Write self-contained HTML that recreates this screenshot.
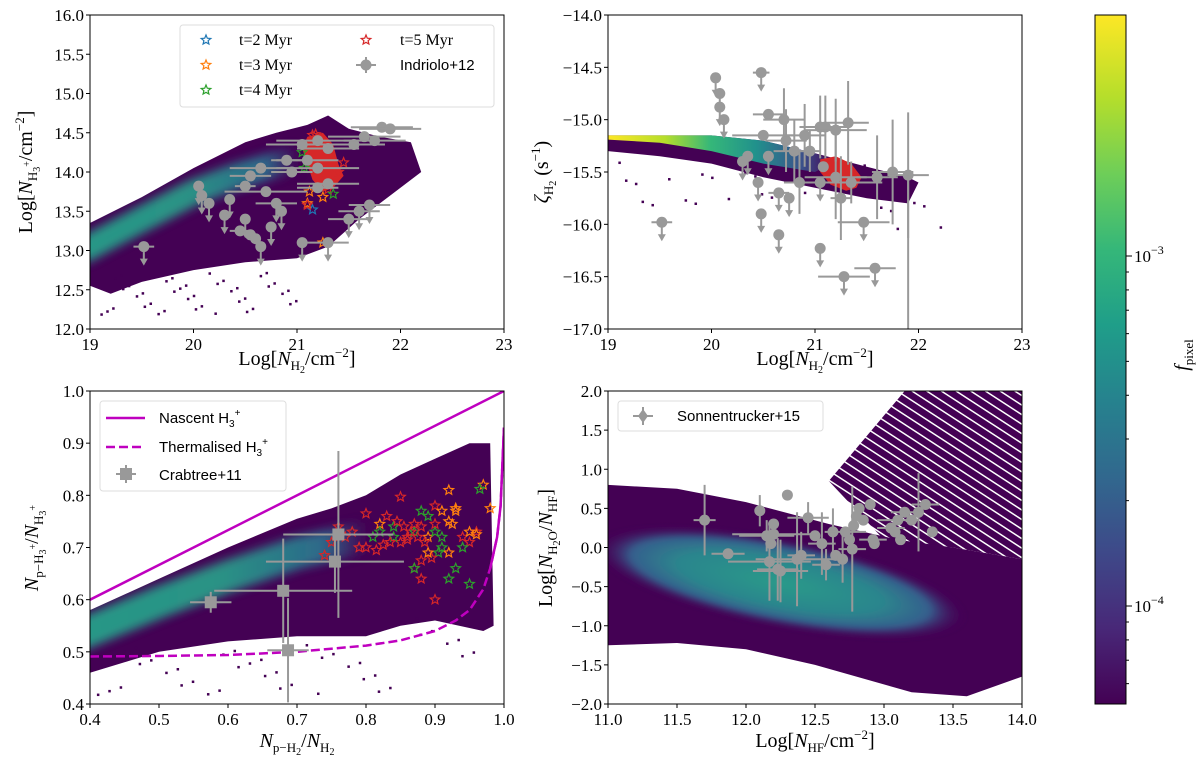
<!DOCTYPE html>
<html><head><meta charset="utf-8">
<style>
html,body{margin:0;padding:0;background:#fff;}
svg{display:block;font-family:"Liberation Serif",serif;}
.tk{font-size:17px;fill:#000;}
.lab{font-size:20px;fill:#000;}
.leg{font-family:"Liberation Sans",sans-serif;font-size:15px;fill:#000;}
.legs{font-family:"Liberation Serif",serif;font-size:16px;fill:#000;}
</style></head>
<body>
<svg id="fig" width="1200" height="762" viewBox="0 0 1200 762" xmlns="http://www.w3.org/2000/svg">
<defs id="defs">
<filter id="blur5" x="-20%" y="-50%" width="140%" height="200%"><feGaussianBlur stdDeviation="5"/></filter>
<filter id="blur3" x="-20%" y="-50%" width="140%" height="200%"><feGaussianBlur stdDeviation="3"/></filter>
<linearGradient id="viridis" x1="0" y1="1" x2="0" y2="0">
<stop offset="0" stop-color="#440154"/><stop offset="0.11" stop-color="#482878"/><stop offset="0.22" stop-color="#3e4989"/><stop offset="0.33" stop-color="#31688e"/><stop offset="0.44" stop-color="#26828e"/><stop offset="0.55" stop-color="#1f9e89"/><stop offset="0.66" stop-color="#35b779"/><stop offset="0.77" stop-color="#6ece58"/><stop offset="0.88" stop-color="#b5de2b"/><stop offset="1" stop-color="#fde725"/>
</linearGradient>
<linearGradient id="ridgeTL" x1="0" y1="0" x2="1" y2="0">
<stop offset="0" stop-color="#25a18a"/><stop offset="0.5" stop-color="#2a9a88"/><stop offset="0.85" stop-color="#2d6f8e"/><stop offset="1" stop-color="#440154"/>
</linearGradient>
<linearGradient id="bandTR" x1="0" y1="0" x2="1" y2="0">
<stop offset="0" stop-color="#fde725"/><stop offset="0.25" stop-color="#b5de2b"/><stop offset="0.45" stop-color="#35b779"/><stop offset="0.65" stop-color="#21918c"/><stop offset="0.85" stop-color="#3b528b"/><stop offset="1" stop-color="#440154"/>
</linearGradient>
<radialGradient id="ellBR"><stop offset="0" stop-color="#2a9a89"/><stop offset="0.55" stop-color="#2c858d"/><stop offset="0.8" stop-color="#355f8d"/><stop offset="1" stop-color="#440154" stop-opacity="0"/></radialGradient>
<pattern id="stripes" width="8" height="8" patternUnits="userSpaceOnUse" patternTransform="rotate(33)">
<rect width="8" height="6.5" fill="#440154"/>
</pattern>
<clipPath id="cTL"><rect x="90" y="15" width="414" height="314"/></clipPath>
<clipPath id="cTR"><rect x="608" y="15" width="414" height="314"/></clipPath>
<clipPath id="cBL"><rect x="90" y="391" width="414" height="313"/></clipPath>
<clipPath id="cBR"><rect x="608" y="391" width="414" height="313"/></clipPath>
</defs>
<g id="root"></g>
</svg>
<script>
// ---------- data ----------
const tlIndX=[19.52,20.05,20.08,20.15,20.3,20.35,20.45,20.5,20.55,20.6,20.65,20.5,20.55,20.65,20.7,20.8,20.85,20.75,20.9,20.95,21.05,21.1,21.2,21.2,21.3,21.3,21.2,21.05,21.3,21.5,21.6,21.7,21.55,21.65,21.75,21.82,21.9];
const tlIndY=[13.05,13.82,13.7,13.6,13.45,13.65,13.25,13.4,13.2,13.15,13.05,13.82,13.95,14.05,13.75,13.6,13.5,13.3,14.15,14.0,14.35,14.15,14.4,14.05,14.3,13.85,13.8,13.1,13.1,13.4,13.5,13.58,14.35,14.45,14.4,14.57,14.55];
const tlIndXerr=[0.1,0,0,0,0,0,0.1,0,0,0,0,0.1,0.2,0.3,0.4,0.2,0,0,0.15,0.2,0.35,0.3,0.4,0.4,0.3,0.3,0.2,0,0.2,0.2,0.2,0.2,0.3,0.35,0.3,0.3,0.3];
const tlIndLim=[1,1,1,1,1,1,0,1,0,0,1,0,0,0,0,1,1,1,0,0,0,0,0,0,0,0,0,1,1,1,1,1,0,0,0,0,0];
const tlStarX=[21.15,21.25,21.1,21.12,21.1,21.25,21.3,21.35,21.45,21.4,21.05,21.07,21.15,21.18];
const tlStarY=[13.52,13.68,13.6,13.75,13.58,13.1,13.78,13.72,14.12,14.0,14.25,14.05,14.47,14.48];
const tlStarC=["b","o","o","o","r","o","r","g","r","r","g","g","r","r"];
const trIndX=[19.52,20.04,20.08,20.08,20.12,20.48,20.55,20.7,20.5,20.35,20.3,20.55,20.72,20.8,20.9,20.95,20.45,20.65,20.75,20.48,20.65,20.85,21.05,21.1,21.2,21.32,21.08,21.2,21.25,21.35,21.05,21.05,21.28,21.58,21.47,21.6,21.75,21.9];
const trIndY=[-15.98,-14.6,-14.75,-14.88,-15.0,-14.55,-14.95,-15.0,-15.15,-15.35,-15.4,-15.35,-15.2,-15.3,-15.15,-15.3,-15.6,-15.7,-15.75,-15.9,-16.1,-15.6,-15.07,-15.07,-15.1,-15.03,-15.45,-15.55,-15.75,-15.6,-15.6,-16.23,-16.5,-16.42,-15.98,-15.55,-15.5,-15.53];
const trIndXerr=[0.1,0,0,0,0,0.08,0.15,0.2,0.3,0,0,0,0.2,0.2,0.2,0.1,0,0.1,0,0.05,0,0.15,0.2,0.2,0.3,0.2,0,0.3,0.1,0.3,0,0,0.25,0.2,0.25,0.2,0.2,0.2];
const trIndYerr=[0,0,0,0,0,0,0,0.3,0,0,0,0,0.3,0.3,0.3,0.2,0,0,0,0,0,0.3,0.3,0.3,0.3,0.4,0,0.4,0.4,0.2,0,0,0,0,0,0.4,0.5,0.6];
const trIndLim=[1,1,1,1,1,1,0,0,0,1,1,1,0,0,0,0,1,1,1,1,1,0,0,0,0,0,0,0,0,0,1,1,1,1,1,0,0,0];
const blCrabX=[0.575,0.68,0.687,0.755,0.76];
const blCrabY=[0.595,0.617,0.503,0.673,0.725];
const blCrabXerr=[0.03,0.1,0.03,0.1,0.08];
const blCrabYerr=[0.02,0.1,0.1,0.06,0.16];
const nascentX=[0.4,1.0];
const nascentY=[0.6,1.0];
const thermX=[0.4,0.5,0.6,0.7,0.8,0.85,0.9,0.93,0.95,0.97,0.98,0.99,0.995,1.0];
const thermY=[0.491,0.492,0.494,0.5,0.512,0.522,0.54,0.56,0.58,0.62,0.66,0.72,0.78,0.93];
const blStarX=[0.85,0.8,0.82,0.83,0.84,0.85,0.86,0.87,0.88,0.89,0.9,0.91,0.92,0.93,0.94,0.95,0.96,0.97,0.98,0.76,0.75,0.74,0.77,0.78,0.79,0.8,0.81,0.82,0.84,0.86,0.87,0.88,0.89,0.9,0.91,0.92,0.93,0.94,0.95,0.87,0.88,0.9,0.905,0.895,0.885,0.875,0.865,0.855,0.845,0.835,0.825,0.815,0.92,0.93,0.91,0.9,0.89,0.88,0.87,0.95,0.96,0.965,0.925,0.92];
const blStarY=[0.797,0.765,0.745,0.76,0.74,0.71,0.72,0.73,0.77,0.76,0.78,0.77,0.75,0.77,0.72,0.71,0.73,0.82,0.775,0.74,0.71,0.685,0.72,0.73,0.7,0.7,0.72,0.73,0.72,0.715,0.745,0.74,0.72,0.73,0.7,0.69,0.66,0.7,0.63,0.66,0.64,0.6,0.69,0.68,0.71,0.72,0.73,0.74,0.75,0.71,0.705,0.695,0.81,0.775,0.72,0.745,0.69,0.675,0.66,0.73,0.725,0.812,0.745,0.64];
const blStarC=["r","r","o","r","g","r","r","g","g","g","r","o","o","o","r","r","r","o","o","r","r","r","r","r","r","r","g","g","g","r","r","r","o","g","g","o","g","g","g","r","r","r","g","r","r","r","r","r","r","r","r","r","o","o","g","r","o","r","g","o","o","g","o","g"];
const brSonX=[11.7,11.87,12.1,12.3,12.15,12.2,12.18,12.17,12.25,12.23,12.2,12.4,12.37,12.45,12.5,12.55,12.58,12.63,12.65,12.7,12.72,12.77,12.75,12.8,12.82,12.78,12.85,12.9,12.92,12.93,13.05,13.1,13.12,13.15,13.25,13.3,13.35,13.2,13.08];
const brSonY=[0.35,-0.08,0.47,0.67,0.15,0.17,0.05,-0.18,-0.3,-0.28,0.3,-0.1,-0.15,0.38,0.15,0.05,-0.22,0.2,-0.1,-0.15,0.2,-0.02,0.1,0.4,0.5,0.28,0.35,0.55,0.1,0.05,0.25,0.35,0.1,0.45,0.45,0.55,0.2,0.35,0.2];
const brSonXerr=[0.08,0.12,0,0,0.2,0.3,0,0.3,0.2,0.15,0,0.1,0.3,0.15,0,0.1,0.1,0,0,0,0.15,0.1,0,0,0,0,0,0,0.1,0,0.1,0.15,0,0.1,0,0.1,0,0,0];
const brSonYerr=[0.45,0,0.2,0,0.2,0,0,0.5,0.4,0.4,0,0.3,0.6,0.2,0,0.4,0.2,0.3,0,0.3,0,0.8,0,0,0,0,0,0,0,0,0,0,0,0,0.5,0,0,0,0];
const cbTicks=[-3,-4];
const cbTickLabels=["10","10"];

// ---------- helpers ----------
const NS="http://www.w3.org/2000/svg";
const root=document.getElementById('root');
const defs=document.getElementById('defs');
function el(tag,attrs,parent,text){const e=document.createElementNS(NS,tag);for(const k in attrs)e.setAttribute(k,attrs[k]);if(text!==undefined)e.textContent=text;(parent||root).appendChild(e);return e;}
const COL={r:"#d62728",o:"#ff7f0e",g:"#2ca02c",b:"#1f77b4"};
const GREY="#999999";
function scale(d0,d1,p0,p1){return v=>p0+(v-d0)/(d1-d0)*(p1-p0);}
function poly(xs,ys,sx,sy){return xs.map((x,i)=>sx(x).toFixed(1)+","+sy(ys[i]).toFixed(1)).join(" ");}
function polyClip(id,pts){const cp=el('clipPath',{id:id},defs);el('polygon',{points:pts},cp);}
function starPath(cx,cy,r){let p="";for(let i=0;i<10;i++){const a=-Math.PI/2+i*Math.PI/5;const rr=i%2?r*0.45:r;p+=(i?"L":"M")+(cx+rr*Math.cos(a)).toFixed(1)+","+(cy+rr*Math.sin(a)).toFixed(1);}return p+"Z";}
function axes(g,X0,X1,Y0,Y1){el('rect',{x:X0,y:Y0,width:X1-X0,height:Y1-Y0,fill:'none',stroke:'#000','stroke-width':1},g);}
function ticksX(g,vals,labels,sx,Y1){vals.forEach((v,i)=>{el('line',{x1:sx(v),x2:sx(v),y1:Y1,y2:Y1+4,stroke:'#000'},g);const t=el('text',{x:sx(v),y:Y1+21,'text-anchor':'middle',class:'tk'},g,labels[i]);});}
function ticksY(g,vals,labels,sy,X0){vals.forEach((v,i)=>{el('line',{x1:X0-4,x2:X0,y1:sy(v),y2:sy(v),stroke:'#000'},g);if(labels){const t=el('text',{x:X0-6,y:sy(v)+6,'text-anchor':'end',class:'tk'},g,labels[i]);}});}
function errpt(g,px,py,xe,ye,sx,sy,marker,lim){
  const e=el('g',{},g);
  
  
  if(xe)el('line',{x1:sx(px-xe),x2:sx(px+xe),y1:sy(py),y2:sy(py),stroke:GREY,'stroke-width':2},e);
  if(ye)el('line',{x1:sx(px),x2:sx(px),y1:sy(py-ye),y2:sy(py+ye),stroke:GREY,'stroke-width':2},e);
  const cx=sx(px),cy=sy(py);
  if(lim){el('line',{x1:cx,x2:cx,y1:cy,y2:cy+16,stroke:GREY,'stroke-width':2},e);el('path',{d:`M${cx-4},${cy+12}L${cx+4},${cy+12}L${cx},${cy+19}Z`,fill:GREY},e);}
  if(marker==='c')el('circle',{cx:cx,cy:cy,r:5.5,fill:GREY},e);
  else if(marker==='s')el('rect',{x:cx-6,y:cy-6,width:12,height:12,fill:GREY},e);
  else el('path',{d:`M${cx},${cy-7}L${cx+5},${cy}L${cx},${cy+7}L${cx-5},${cy}Z`,fill:GREY},e);
}
function star(g,x,y,c){const s=el('path',{d:starPath(x,y,5),fill:'none',stroke:COL[c],'stroke-width':1.2},g);}
const PURP="#440154";

// ================= Panel TL =================
{
const g=el('g',{});  
const c=el('g',{'clip-path':'url(#cTL)'},g);
const X0=90,X1=504,Y0=15,Y1=329;
const sx=scale(19,23,X0,X1), sy=scale(12,16,Y1,Y0);
const dX=[19,19.5,20,20.5,20.8,21.1,21.3,21.5,21.8,22.1,22.2,21.9,21.6,21.3,21.0,20.5,20.0,19.5,19.2,19];
const dY=[13.35,13.68,14.05,14.38,14.5,14.6,14.72,14.55,14.45,14.38,14.0,13.7,13.4,13.05,12.9,12.85,12.75,12.6,12.45,12.55];
const pts=poly(dX,dY,sx,sy);
polyClip('dTL',pts);
const dp=el('polygon',{points:pts,fill:PURP},c);  
for(let i=0;i<40;i++){const x=19.1+((i*37)%100)/100*1.9, y=12.2+((i*53)%100)/100*0.55;el('rect',{x:sx(x),y:sy(y),width:2.5,height:2.5,fill:PURP},c);}
const rX=[18.9,19.5,20,20.4,20.8,21.0];const rY=[12.98,13.4,13.74,13.94,14.1,14.17];
const rg=el('g',{'clip-path':'url(#dTL)'},c);
const rp=el('path',{d:"M"+poly(rX,rY,sx,sy).replace(/ /g," L"),fill:'none',stroke:'url(#ridgeTL)','stroke-width':26,'stroke-linecap':'butt',filter:'url(#blur5)',opacity:0.95},rg);
 
const bX=[21.1,21.25,21.35,21.4,21.45,21.35,21.25,21.15,21.1,21.05];const bY=[14.45,14.5,14.35,14.1,13.95,13.8,13.75,13.9,14.1,14.3];
const bp=el('polygon',{points:poly(bX,bY,sx,sy),fill:COL.r},c);  
tlStarX.forEach((x,i)=>star(c,sx(x),sy(tlStarY[i]),tlStarC[i]));
tlIndX.forEach((x,i)=>errpt(c,x,tlIndY[i],tlIndXerr[i],0,sx,sy,'c',tlIndLim[i]));
axes(g,X0,X1,Y0,Y1);
ticksX(g,[19,20,21,22,23],["19","20","21","22","23"],sx,Y1);
ticksY(g,[12,12.5,13,13.5,14,14.5,15,15.5,16],["12.0","12.5","13.0","13.5","14.0","14.5","15.0","15.5","16.0"],sy,X0);
const xl=el('text',{x:297,y:365,'text-anchor':'middle',class:'lab'},g);  
xl.innerHTML='Log[<tspan font-style="italic">N</tspan><tspan font-size="13" dy="5">H</tspan><tspan font-size="10" dy="3">2</tspan><tspan dy="-8">/cm</tspan><tspan font-size="13" dy="-8">−2</tspan><tspan dy="8">]</tspan>';
const yl=el('text',{x:0,y:0,'text-anchor':'middle',class:'lab',transform:'translate(32,172) rotate(-90)'},g);  
yl.innerHTML='Log[<tspan font-style="italic">N</tspan><tspan font-size="13" dy="5">H</tspan><tspan font-size="10" dy="3">3</tspan><tspan font-size="10" dy="-10">+</tspan><tspan dy="2">/cm</tspan><tspan font-size="13" dy="-8">−2</tspan><tspan dy="8">]</tspan>';
const L=el('g',{},g);  
el('rect',{x:180,y:25,width:314,height:82,rx:3,fill:'#fff',stroke:'#ddd'},L);
const ents=[[206,40,'b','t=2  Myr'],[206,65,'o','t=3  Myr'],[206,90,'g','t=4  Myr'],[366,40,'r','t=5  Myr']];
ents.forEach(e=>{star(L,e[0],e[1],e[2]);const t=el('text',{x:239,y:e[1]+5,class:'legs'},L,e[3]);if(e[0]>300)t.setAttribute('x',400);});
el('line',{x1:356,x2:376,y1:65,y2:65,stroke:GREY,'stroke-width':2},L);el('line',{x1:366,x2:366,y1:57,y2:73,stroke:GREY,'stroke-width':2},L);el('circle',{cx:366,cy:65,r:5.5,fill:GREY},L);
const t5=el('text',{x:400,y:70,class:'leg'},L,'Indriolo+12');
}

// ================= Panel TR =================
{
const g=el('g',{});  
const c=el('g',{'clip-path':'url(#cTR)'},g);
const X0=608,X1=1022,Y0=15,Y1=329;
const sx=scale(19,23,X0,X1), sy=scale(-17,-14,Y1,Y0);
const dX=[19,20,20.5,21,21.5,21.9,22.0,21.9,21.5,21.0,20.5,20.0,19.5,19];
const dY=[-15.15,-15.15,-15.2,-15.32,-15.45,-15.55,-15.6,-15.8,-15.75,-15.65,-15.55,-15.42,-15.35,-15.3];
const dp=el('polygon',{points:poly(dX,dY,sx,sy),fill:PURP},c);  
for(let i=0;i<30;i++){const x=19.1+((i*41)%100)/100*3.2, y=-15.4-((i*29)%100)/100*0.45-(x>21.5?0.2:0);el('rect',{x:sx(x),y:sy(y),width:2.5,height:2.5,fill:PURP},c);}
const cX=[19,20,20.5,21,21.2,21.0,20.5,20.0,19.5,19];const cY=[-15.15,-15.15,-15.2,-15.32,-15.4,-15.5,-15.42,-15.3,-15.22,-15.19];
const cp=el('polygon',{points:poly(cX,cY,sx,sy),fill:'url(#bandTR)'},c);  
const bX=[21.05,21.2,21.35,21.45,21.4,21.3,21.15,21.05];const bY=[-15.38,-15.35,-15.42,-15.55,-15.65,-15.68,-15.62,-15.5];
const bp=el('polygon',{points:poly(bX,bY,sx,sy),fill:COL.r},c);  
trIndX.forEach((x,i)=>errpt(c,x,trIndY[i],trIndXerr[i],trIndYerr[i],sx,sy,'c',trIndLim[i]));
el('line',{x1:sx(21.9),x2:sx(21.9),y1:sy(-15.53),y2:Y1,stroke:GREY,'stroke-width':2},c);
axes(g,X0,X1,Y0,Y1);
ticksX(g,[19,20,21,22,23],["19","20","21","22","23"],sx,Y1);
ticksY(g,[-17,-16.5,-16,-15.5,-15,-14.5,-14],["−17.0","−16.5","−16.0","−15.5","−15.0","−14.5","−14.0"],sy,X0);
const xl=el('text',{x:815,y:365,'text-anchor':'middle',class:'lab'},g);  
xl.innerHTML='Log[<tspan font-style="italic">N</tspan><tspan font-size="13" dy="5">H</tspan><tspan font-size="10" dy="3">2</tspan><tspan dy="-8">/cm</tspan><tspan font-size="13" dy="-8">−2</tspan><tspan dy="8">]</tspan>';
const yl=el('text',{x:0,y:0,'text-anchor':'middle',class:'lab',transform:'translate(548,172) rotate(-90)'},g);  
yl.innerHTML='<tspan font-style="italic">ζ</tspan><tspan font-size="13" dy="5">H</tspan><tspan font-size="10" dy="3">2</tspan><tspan dy="-8"> (s</tspan><tspan font-size="13" dy="-8">−1</tspan><tspan dy="8">)</tspan>';
}

// ================= Panel BL =================
{
const g=el('g',{});  
const c=el('g',{'clip-path':'url(#cBL)'},g);
const X0=90,X1=504,Y0=391,Y1=704;
const sx=scale(0.4,1.0,X0,X1), sy=scale(0.4,1.0,Y1,Y0);
const dX=[0.4,0.5,0.6,0.7,0.75,0.8,0.85,0.9,0.95,0.98,0.985,0.97,0.9,0.85,0.8,0.7,0.6,0.5,0.45,0.4];
const dY=[0.58,0.64,0.7,0.755,0.775,0.8,0.84,0.87,0.9,0.9,0.55,0.54,0.56,0.55,0.53,0.53,0.52,0.5,0.48,0.46];
const pts=poly(dX,dY,sx,sy);
polyClip('dBL',pts);
const dp=el('polygon',{points:pts,fill:PURP},c);  
for(let i=0;i<40;i++){const x=0.41+((i*37)%100)/100*0.55, y=0.42+((i*53)%100)/100*0.1+(x>0.85?0.05:0);el('rect',{x:sx(x),y:sy(y),width:2.5,height:2.5,fill:PURP},c);}
const rX=[0.38,0.5,0.6,0.7,0.8];const rY=[0.53,0.595,0.645,0.69,0.72];
const rg=el('g',{'clip-path':'url(#dBL)'},c);
const rp=el('path',{d:"M"+poly(rX,rY,sx,sy).replace(/ /g," L"),fill:'none',stroke:'url(#ridgeTL)','stroke-width':32,filter:'url(#blur5)',opacity:0.95},rg);
 
const nl=el('polyline',{points:poly(nascentX,nascentY,sx,sy),fill:'none',stroke:'#bf00bf','stroke-width':2.5},c);  
const tl=el('polyline',{points:poly(thermX,thermY,sx,sy),fill:'none',stroke:'#bf00bf','stroke-width':2.5,'stroke-dasharray':'9,4'},c);  
el('polyline',{points:poly(thermX.slice(10),thermY.slice(10),sx,sy),fill:'none',stroke:'#bf00bf','stroke-width':2.5},c);
blStarX.forEach((x,i)=>star(c,sx(x),sy(blStarY[i]),blStarC[i]));
blCrabX.forEach((x,i)=>errpt(c,x,blCrabY[i],blCrabXerr[i],blCrabYerr[i],sx,sy,'s',0));
axes(g,X0,X1,Y0,Y1);
ticksX(g,[0.4,0.5,0.6,0.7,0.8,0.9,1.0],["0.4","0.5","0.6","0.7","0.8","0.9","1.0"],sx,Y1);
ticksY(g,[0.4,0.5,0.6,0.7,0.8,0.9,1.0],["0.4","0.5","0.6","0.7","0.8","0.9","1.0"],sy,X0);
const xl=el('text',{x:297,y:747,'text-anchor':'middle',class:'lab'},g);  
xl.innerHTML='<tspan font-style="italic">N</tspan><tspan font-size="13" dy="5">p−H</tspan><tspan font-size="10" dy="3">2</tspan><tspan dy="-8">/</tspan><tspan font-style="italic">N</tspan><tspan font-size="13" dy="5">H</tspan><tspan font-size="10" dy="3">2</tspan>';
const yl=el('text',{x:0,y:0,'text-anchor':'middle',class:'lab',transform:'translate(38,548) rotate(-90)'},g);  
yl.innerHTML='<tspan font-style="italic">N</tspan><tspan font-size="13" dy="5">p−H</tspan><tspan font-size="10" dy="3">3</tspan><tspan font-size="10" dy="-10">+</tspan><tspan dy="2">/</tspan><tspan font-style="italic">N</tspan><tspan font-size="13" dy="5">H</tspan><tspan font-size="10" dy="3">3</tspan><tspan font-size="10" dy="-10">+</tspan>';
const L=el('g',{},g);  
el('rect',{x:100,y:401,width:186,height:90,rx:3,fill:'#fff',stroke:'#ddd'},L);
el('line',{x1:106,x2:145,y1:418,y2:418,stroke:'#bf00bf','stroke-width':2.5},L);
el('line',{x1:106,x2:145,y1:447,y2:447,stroke:'#bf00bf','stroke-width':2.5,'stroke-dasharray':'9,4'},L);
el('line',{x1:116,x2:136,y1:474,y2:474,stroke:GREY,'stroke-width':2},L);el('line',{x1:126,x2:126,y1:465,y2:483,stroke:GREY,'stroke-width':2},L);el('rect',{x:120,y:468,width:12,height:12,fill:GREY},L);
const a=el('text',{x:159,y:423,class:'leg'},L);a.innerHTML='Nascent H<tspan font-size="10" dy="4">3</tspan><tspan font-size="10" dy="-11">+</tspan>';
const b=el('text',{x:159,y:452,class:'leg'},L);b.innerHTML='Thermalised H<tspan font-size="10" dy="4">3</tspan><tspan font-size="10" dy="-11">+</tspan>';
const cc=el('text',{x:159,y:480,class:'leg'},L,'Crabtree+11');
}

// ================= Panel BR =================
{
const g=el('g',{});  
const c=el('g',{'clip-path':'url(#cBR)'},g);
const X0=608,X1=1022,Y0=391,Y1=704;
const sx=scale(11,14,X0,X1), sy=scale(-2,2,Y1,Y0);
const sX=[12.6,13.15,14,14,13.5,13.0];const sY=[0.85,2.0,2.0,-0.15,0.0,0.1];
const sp=el('polygon',{points:poly(sX,sY,sx,sy),fill:'url(#stripes)'},c);  
const dX=[11,11.5,12,12.6,13.1,13.5,14,14,13.6,13.2,12.5,12,11.5,11];
const dY=[0.8,0.75,0.58,0.3,0.1,0.0,-0.15,-1.65,-1.9,-1.85,-1.5,-1.3,-1.22,-1.25];
const dp=el('polygon',{points:poly(dX,dY,sx,sy),fill:PURP},c);  
const cx=sx(12.25),cy=sy(-0.45);
const ep=el('ellipse',{cx:cx,cy:cy,rx:190,ry:44,fill:'url(#ellBR)',transform:`rotate(11 ${cx} ${cy})`,filter:'url(#blur3)'},c);  
brSonX.forEach((x,i)=>errpt(c,x,brSonY[i],brSonXerr[i],brSonYerr[i],sx,sy,'c',0));
axes(g,X0,X1,Y0,Y1);
ticksX(g,[11,11.5,12,12.5,13,13.5,14],["11.0","11.5","12.0","12.5","13.0","13.5","14.0"],sx,Y1);
ticksY(g,[-2,-1.5,-1,-0.5,0,0.5,1,1.5,2],["−2.0","−1.5","−1.0","−0.5","0.0","0.5","1.0","1.5","2.0"],sy,X0);
const xl=el('text',{x:815,y:747,'text-anchor':'middle',class:'lab'},g);  
xl.innerHTML='Log[<tspan font-style="italic">N</tspan><tspan font-size="13" dy="5">HF</tspan><tspan dy="-5">/cm</tspan><tspan font-size="13" dy="-8">−2</tspan><tspan dy="8">]</tspan>';
const yl=el('text',{x:0,y:0,'text-anchor':'middle',class:'lab',transform:'translate(552,548) rotate(-90)'},g);  
yl.innerHTML='Log[<tspan font-style="italic">N</tspan><tspan font-size="13" dy="5">H</tspan><tspan font-size="10" dy="3">2</tspan><tspan font-size="13" dy="-3">O</tspan><tspan dy="-5">/</tspan><tspan font-style="italic">N</tspan><tspan font-size="13" dy="5">HF</tspan><tspan dy="-5">]</tspan>';
const L=el('g',{},g);  
el('rect',{x:618,y:401,width:205,height:30,rx:3,fill:'#fff',stroke:'#ddd'},L);
el('line',{x1:633,x2:653,y1:416,y2:416,stroke:GREY,'stroke-width':2},L);el('line',{x1:643,x2:643,y1:407,y2:425,stroke:GREY,'stroke-width':2},L);el('path',{d:'M643,409L648,416L643,423L638,416Z',fill:GREY},L);
const t=el('text',{x:677,y:421,class:'leg'},L,'Sonnentrucker+15');
}

// ================= Colorbar =================
{
const g=el('g',{});  
const X0=1095,X1=1126,Y0=15,Y1=704;
el('rect',{x:X0,y:Y0,width:X1-X0,height:Y1-Y0,fill:'url(#viridis)',stroke:'#000','stroke-width':1},g);
const sl=scale(-3,-4,256,606);
cbTicks.forEach((v,i)=>{el('line',{x1:X1,x2:X1+6,y1:sl(v),y2:sl(v),stroke:'#000'},g);const t=el('text',{x:X1+8,y:sl(v)+6,class:'tk'},g);t.innerHTML=cbTickLabels[i]+'<tspan font-size="12" dy="-8">'+(v===-3?'−3':'−4')+'</tspan>';});
[2,3,4,5,6,7,8,9].forEach(m=>{[-4,-5].forEach(d=>{const v=d+Math.log10(m);const y=sl(v);if(y>Y0&&y<Y1)el('line',{x1:X1,x2:X1+3,y1:y,y2:y,stroke:'#000'},g);});});
const lb=el('text',{x:0,y:0,'text-anchor':'middle',class:'lab',transform:'translate(1188,355) rotate(-90)'},g);
lb.innerHTML='<tspan font-style="italic">f</tspan><tspan font-size="13" dy="5">pixel</tspan>';

}
</script>
</body></html>
